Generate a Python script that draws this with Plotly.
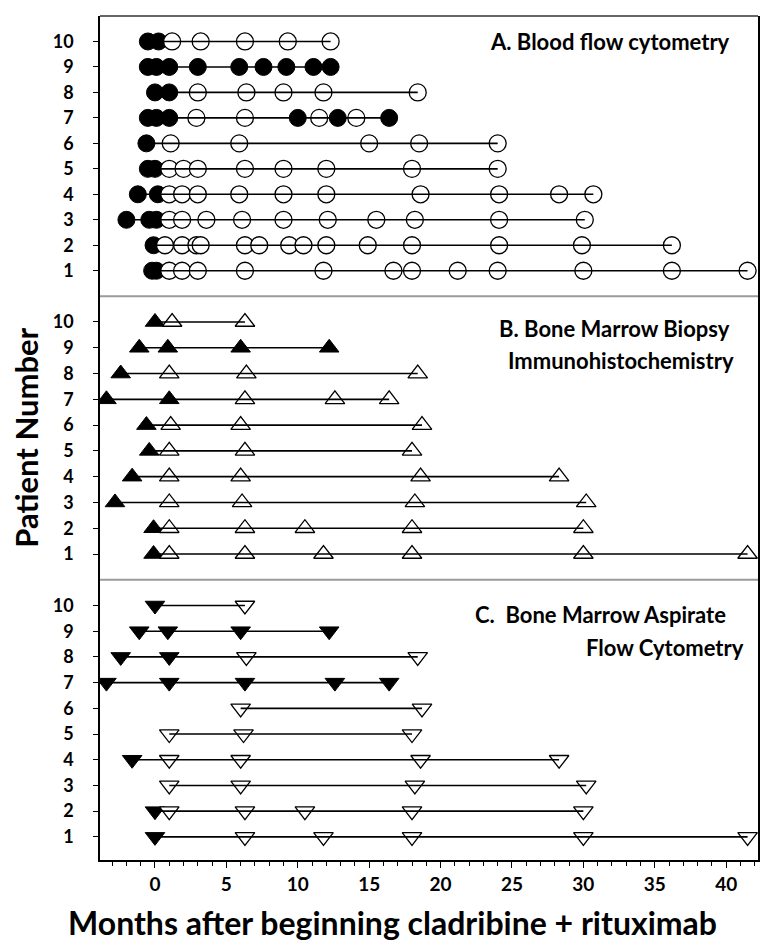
import plotly.graph_objects as go
from plotly.subplots import make_subplots

patients = [1, 2, 3, 4, 5, 6, 7, 8, 9, 10]
x_ticks = [0, 5, 10, 15, 20, 25, 30, 35, 40]

# Panel A: blood flow cytometry (index 0 = patient 1)
A_filled = [
    [-0.2, 0.1],
    [-0.1],
    [-2.0, -0.4, 0.1],
    [-1.2, 0.2],
    [-0.5, 0.0],
    [-0.6],
    [-0.5, 0.1, 1.0, 10.0, 12.8, 16.4],
    [0.0, 1.0],
    [-0.5, 0.1, 1.0, 3.0, 5.9, 7.6, 9.2, 11.1, 12.3],
    [-0.5, 0.25],
]
A_open = [
    [1.0, 1.9, 3.0, 6.3, 11.8, 16.7, 18.0, 21.2, 24.0, 30.0, 36.2, 41.5],
    [0.7, 1.9, 2.9, 3.2, 6.3, 7.3, 9.4, 10.4, 12.0, 14.9, 18.0, 24.1, 29.9, 36.2],
    [1.0, 1.9, 3.6, 6.1, 9.0, 12.1, 15.5, 18.2, 24.1, 30.1],
    [1.0, 1.9, 3.0, 5.9, 9.0, 12.0, 18.6, 24.1, 28.3, 30.7],
    [1.0, 2.0, 3.0, 6.3, 9.0, 12.0, 18.0, 24.0],
    [1.1, 5.9, 15.0, 18.5, 24.0],
    [2.9, 6.3, 11.5, 14.1],
    [3.0, 6.4, 9.0, 11.8, 18.4],
    [],
    [1.2, 3.2, 6.3, 9.3, 12.3],
]

# Panel B: bone marrow biopsy immunohistochemistry
B_filled = [
    [-0.1],
    [-0.1],
    [-2.8],
    [-1.6],
    [-0.4],
    [-0.6],
    [-3.4, 1.0],
    [-2.4],
    [-1.1, 0.9, 6.0, 12.2],
    [0.0],
]
B_open = [
    [1.0, 6.3, 11.8, 18.0, 30.0, 41.5],
    [1.0, 6.3, 10.5, 18.0, 30.0],
    [1.0, 6.1, 18.2, 30.2],
    [1.0, 6.0, 18.6, 28.3],
    [1.0, 6.3, 18.0],
    [1.1, 6.0, 18.7],
    [6.3, 12.6, 16.4],
    [1.0, 6.4, 18.4],
    [],
    [1.2, 6.3],
]

# Panel C: bone marrow aspirate flow cytometry
C_filled = [
    [0.0],
    [0.0],
    [],
    [-1.6],
    [],
    [],
    [-3.4, 1.0, 6.3, 12.6, 16.4],
    [-2.4, 1.0],
    [-1.1, 0.9, 6.0, 12.2],
    [0.0],
]
C_open = [
    [6.3, 11.8, 18.0, 30.0, 41.5],
    [1.0, 6.3, 10.5, 18.0, 30.0],
    [1.0, 6.0, 18.2, 30.2],
    [1.0, 6.0, 18.6, 28.3],
    [1.0, 6.2, 18.0],
    [6.0, 18.7],
    [],
    [6.4, 18.4],
    [],
    [6.3],
]

panels = [
    (A_filled, A_open, "circle", 1),
    (B_filled, B_open, "triangle-up", 2),
    (C_filled, C_open, "triangle-down", 3),
]

fig = make_subplots(rows=3, cols=1, shared_xaxes=False, vertical_spacing=0.0,
                    row_heights=[0.332, 0.336, 0.332])

def flat(rows):
    xs, ys = [], []
    for i, r in enumerate(rows):
        for v in r:
            xs.append(v)
            ys.append(patients[i])
    return xs, ys

for filled, opened, sym, row in panels:
    fx, fy = flat(filled)
    ox, oy = flat(opened)
    fig.add_trace(go.Scatter(x=fx, y=fy, mode="markers",
                             marker=dict(symbol=sym, size=17, color="black",
                                         line=dict(color="black", width=1)),
                             showlegend=False, hoverinfo="skip"), row=row, col=1)
    fig.add_trace(go.Scatter(x=ox, y=oy, mode="markers",
                             marker=dict(symbol=sym, size=17, color="white",
                                         line=dict(color="black", width=1.3)),
                             showlegend=False, hoverinfo="skip"), row=row, col=1)
    lx, ly = [], []
    for i in range(len(patients)):
        allv = filled[i] + opened[i]
        if allv:
            lx += [min(allv), max(allv), None]
            ly += [patients[i], patients[i], None]
    fig.add_trace(go.Scatter(x=lx, y=ly, mode="lines",
                             line=dict(color="black", width=1.6),
                             showlegend=False, hoverinfo="skip"), row=row, col=1)

xr = [-3.85, 42.23]
font_fam = "Lato, 'Open Sans', sans-serif"
for r in (1, 2, 3):
    yr = [0, 11] if r < 3 else [0.1, 11.0]
    fig.update_yaxes(range=yr, tickvals=patients, ticks="outside", ticklen=5,
                     tickwidth=1.3, tickcolor="black", ticklabelstandoff=16,
                     tickfont=dict(size=18, family=font_fam, color="black", weight=700),
                     showline=True, linecolor="black", linewidth=1.5, mirror=True,
                     showgrid=False, zeroline=False, automargin=False, row=r, col=1)
    if r < 3:
        fig.update_xaxes(range=xr, showticklabels=False, ticks="", showline=False,
                         showgrid=False, zeroline=False, automargin=False, row=r, col=1)
    else:
        fig.update_xaxes(range=xr, tickvals=x_ticks, ticks="outside", ticklen=6,
                         tickwidth=1.3, tickcolor="black",
                         minor=dict(dtick=1, tick0=0, ticks="outside", ticklen=4,
                                    tickcolor="black", tickwidth=1),
                         tickfont=dict(size=19, family=font_fam, color="black", weight=700),
                         ticklabelstandoff=0,
                         showline=True, linecolor="black", linewidth=1.5, mirror=False,
                         showgrid=False, zeroline=False, automargin=False,
                         row=r, col=1)

# top border and gray dividers
fig.add_shape(type="line", xref="paper", yref="paper", x0=0, x1=1, y0=1, y1=1,
              line=dict(color="#333", width=1.5))
for yb in (0.668, 0.332):
    fig.add_shape(type="line", xref="paper", yref="paper", x0=0, x1=1, y0=yb, y1=yb,
                  line=dict(color="#9a9a9a", width=2))

ann_font = dict(size=22, family=font_fam, color="black", weight=700)
titles = [
    ("A. Blood flow cytometry", 0.960, 1 - 25 / 844),
    ("B. Bone Marrow Biopsy", 0.960, 1 - 312 / 844),
    ("Immunohistochemistry", 0.966, 1 - 344 / 844),
    ("C.  Bone Marrow Aspirate", 0.954, 1 - 598 / 844),
    ("Flow Cytometry", 0.982, 1 - 631 / 844),
]
for t, xp, yp in titles:
    fig.add_annotation(text=t, xref="paper", yref="paper", x=xp, y=yp,
                       xanchor="right", yanchor="middle", showarrow=False, font=ann_font)

fig.add_annotation(text="Patient Number", xref="paper", yref="paper",
                   x=-0.113, y=0.5, xanchor="center", yanchor="middle", textangle=-90,
                   showarrow=False, font=dict(size=31, family=font_fam, color="black", weight=700))

fig.add_annotation(text="Months after beginning cladribine + rituximab", xref="paper", yref="paper",
                   x=0.445, y=-0.0746, xanchor="center", yanchor="middle",
                   showarrow=False, font=dict(size=32, family=font_fam, color="black", weight=700))

fig.update_layout(width=784, height=946, margin=dict(l=92, r=34, t=8, b=94),
                  plot_bgcolor="white", paper_bgcolor="white")

fig.write_html("out.html")
